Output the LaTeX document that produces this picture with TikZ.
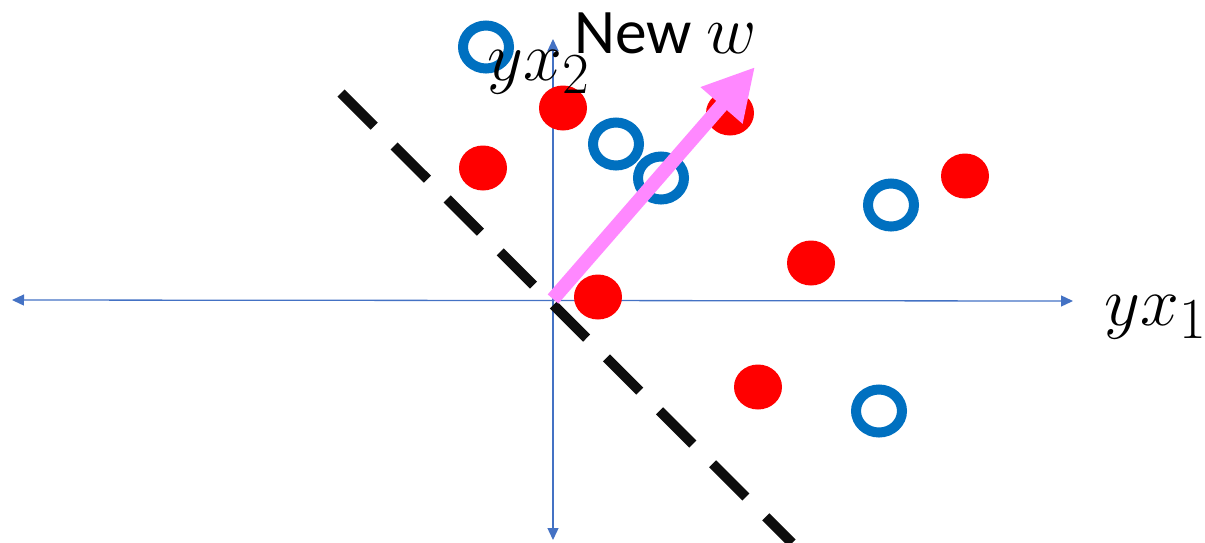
\documentclass[tikz,border=0pt]{standalone}
\usepackage{fontspec}
\newfontfamily\labelfont{Carlito}
\usetikzlibrary{arrows.meta}
\definecolor{axisblue}{RGB}{68,114,196}
\definecolor{ringblue}{RGB}{0,112,192}
\definecolor{dotred}{RGB}{255,0,0}
\definecolor{wpink}{RGB}{255,136,255}
\tikzset{
  axis/.style={draw=axisblue, line width=1.3pt, {Triangle[length=12pt,width=11pt]}-{Triangle[length=12pt,width=11pt]}},
  posdot/.style={fill=dotred, draw=none},
  negring/.style={draw=ringblue, line width=10pt, fill=none},
  boundary/.style={draw=black!95, line width=10pt, dash pattern=on 47pt off 28pt},
  wvec/.style={draw=wpink, line width=14pt, -{Triangle[length=51pt,width=52pt]}},
  mathlbl/.style={inner sep=0pt, anchor=base west, font=\Huge, scale=2.8},
}
\begin{document}
\begin{tikzpicture}[x=1pt,y=-1pt]
\useasboundingbox (0,0) rectangle (1205,542);
% axes
\coordinate (xl) at (12,300);
\coordinate (xr) at (1073,301);
\coordinate (yt) at (553,39);
\coordinate (yb) at (553,540);
\coordinate (o) at (553,299);
\draw[axis] (xl) -- (xr);
\draw[axis] (yb) -- (yt);
% separating line
\coordinate (b1) at (341,93);
\coordinate (b2) at (792,543);
\draw[boundary] (b1) -- (b2);
% positive samples
\foreach \n/\p in {r1/{(563,108)}, r2/{(483,168)}, r3/{(730,113)}, r4/{(598,297)},
                   r5/{(811,263)}, r6/{(965,176)}, r7/{(758,387)}}
  \path[posdot] \p ellipse [x radius=24pt, y radius=22.5pt];
% negative samples
\foreach \n/\p in {c1/{(486,47)}, c2/{(616,144)}, c3/{(661,178)}, c4/{(891,205)}, c5/{(879,411)}}
  \path[negring] \p ellipse [x radius=23pt, y radius=21.5pt];
% weight vector
\coordinate (wt) at (755,67);
\draw[wvec] (o) -- (wt);
% labels
\node[mathlbl] (lx2) at (487,80) {$yx_2$};
\node[mathlbl] (lx1) at (1104,325) {$yx_1$};
\node[inner sep=0pt, anchor=base west, font=\Huge, scale=2.55] (lw) at (574,53) {\labelfont New \scalebox{1.09}{$w$}};
\end{tikzpicture}
\end{document}
